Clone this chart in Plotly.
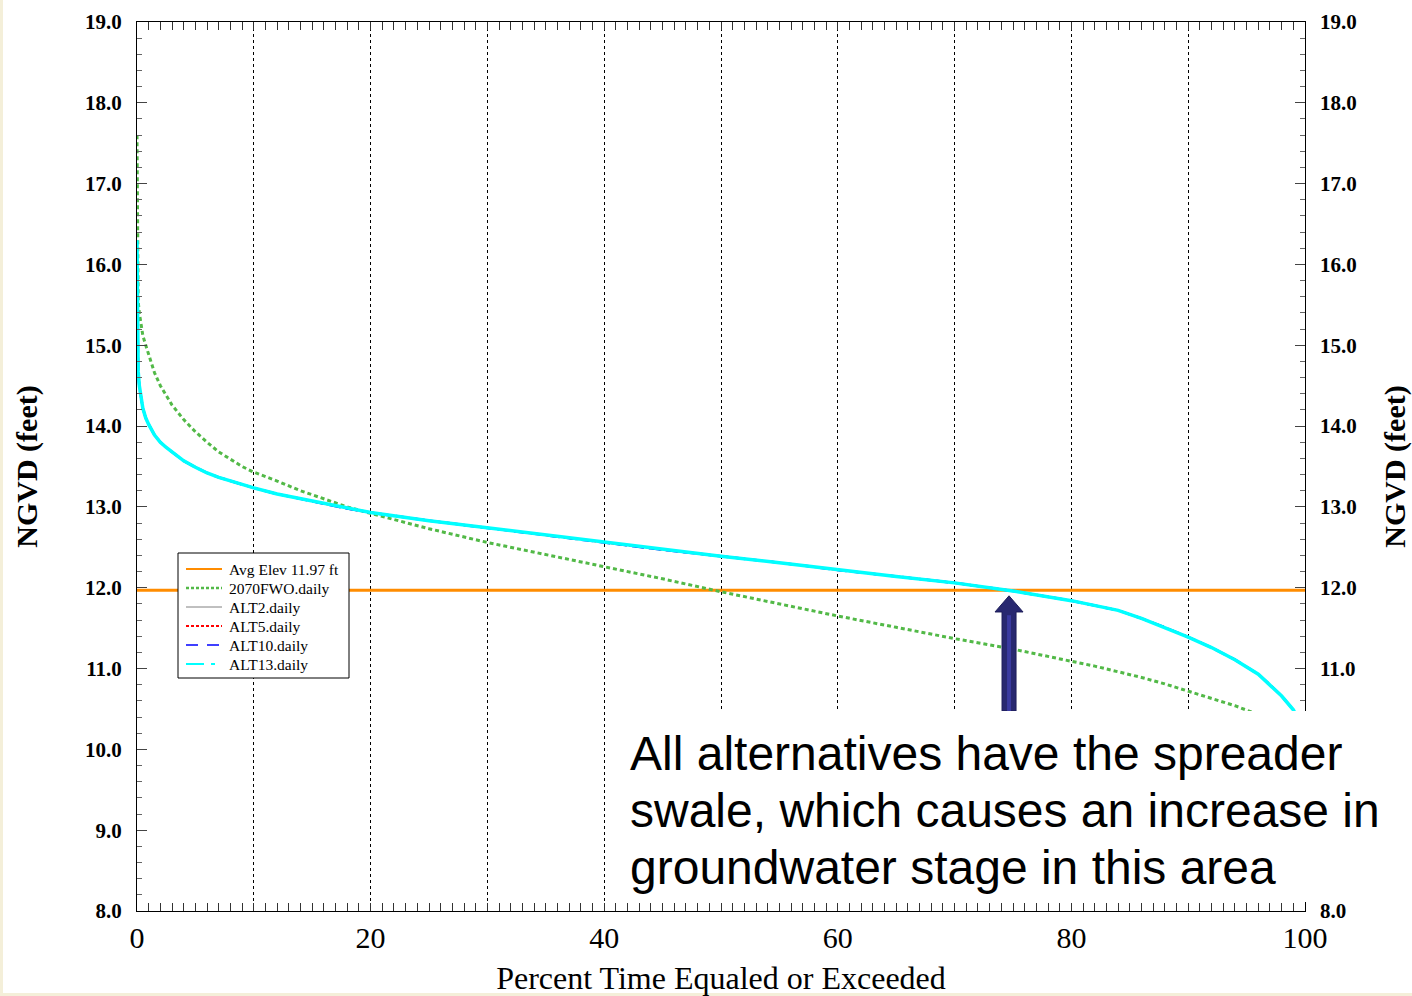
import plotly.graph_objects as go

# ---------------- data ----------------
pct = [0, 0.02, 0.05, 0.1, 0.2, 0.3, 0.5, 0.75, 1, 1.5, 2, 2.5, 3, 4, 5, 6, 7, 8, 9, 10,
       12, 14, 16, 18, 20, 25, 30, 35, 40, 45, 50, 55, 60, 65, 70, 75, 80, 82, 84, 86,
       88, 90, 92, 94, 96, 97, 98, 99, 100]

fwo_2070 = [17.6, 16.9, 16.3, 15.55, 15.4, 15.31, 15.12, 15.0, 14.89, 14.66, 14.5, 14.38,
            14.26, 14.08, 13.93, 13.8, 13.68, 13.59, 13.5, 13.43, 13.32, 13.2, 13.1, 13.0,
            12.92, 12.73, 12.56, 12.41, 12.26, 12.11, 11.95, 11.8, 11.65, 11.51, 11.37,
            11.24, 11.09, 11.03, 10.96, 10.89, 10.81, 10.72, 10.63, 10.54, 10.43, 10.37,
            10.31, 10.24, 10.15]

alt2 = [16.0, 15.4, 14.9, 14.68, 14.5, 14.38, 14.22, 14.1, 14.02, 13.89, 13.8, 13.735,
        13.68, 13.57, 13.49, 13.42, 13.365, 13.32, 13.28, 13.235, 13.16, 13.1, 13.04,
        12.98, 12.93, 12.83, 12.74, 12.65, 12.56, 12.47, 12.39, 12.31, 12.22, 12.14,
        12.06, 11.96, 11.84, 11.78, 11.72, 11.62, 11.51, 11.39, 11.26, 11.11, 10.93,
        10.8, 10.66, 10.49, 10.2]

alt5 = [16.05, 15.2, 14.85, 14.66, 14.5, 14.38, 14.22, 14.1, 14.02, 13.89, 13.8, 13.735,
        13.68, 13.57, 13.49, 13.42, 13.365, 13.32, 13.28, 13.235, 13.16, 13.1, 13.04,
        12.98, 12.93, 12.83, 12.74, 12.65, 12.56, 12.47, 12.39, 12.31, 12.22, 12.14,
        12.06, 11.96, 11.84, 11.78, 11.72, 11.62, 11.51, 11.39, 11.26, 11.11, 10.93,
        10.8, 10.66, 10.49, 10.2]

alt10 = [15.9, 15.55, 14.8, 14.64, 14.49, 14.38, 14.22, 14.1, 14.02, 13.89, 13.8, 13.735,
         13.68, 13.57, 13.49, 13.42, 13.365, 13.32, 13.28, 13.235, 13.16, 13.1, 13.04,
         12.98, 12.93, 12.83, 12.74, 12.65, 12.56, 12.47, 12.39, 12.31, 12.22, 12.14,
         12.06, 11.96, 11.84, 11.78, 11.72, 11.62, 11.51, 11.39, 11.26, 11.11, 10.93,
         10.8, 10.66, 10.49, 10.2]

alt13 = [16.3, 15.6, 14.9, 14.68, 14.5, 14.38, 14.22, 14.1, 14.02, 13.89, 13.8, 13.735,
         13.68, 13.57, 13.49, 13.42, 13.365, 13.32, 13.28, 13.235, 13.16, 13.1, 13.04,
         12.98, 12.93, 12.83, 12.74, 12.65, 12.56, 12.47, 12.39, 12.31, 12.22, 12.14,
         12.06, 11.96, 11.84, 11.78, 11.72, 11.62, 11.51, 11.39, 11.26, 11.11, 10.93,
         10.8, 10.66, 10.49, 10.2]

avg_elev = 11.97

series_names = ["Avg Elev 11.97 ft", "2070FWO.daily", "ALT2.daily",
                "ALT5.daily", "ALT10.daily", "ALT13.daily"]

x_tick_vals = [0, 10, 20, 30, 40, 50, 60, 70, 80, 90, 100]
x_tick_text = ["0", "", "20", "", "40", "", "60", "", "80", "", "100"]
y_tick_vals = [8, 9, 10, 11, 12, 13, 14, 15, 16, 17, 18, 19]
y_tick_vals_right = [8, 11, 12, 13, 14, 15, 16, 17, 18, 19]

x_title = "Percent Time Equaled or Exceeded"
y_title = "NGVD (feet)"
note_lines = ["All alternatives have the spreader",
              "swale, which causes an increase in",
              "groundwater stage in this area"]

# ---------------- styles ----------------
SERIF = "Liberation Serif"
colors = ["#FF8C00", "#52B947", "#808080", "#FF0000", "#0000FF", "#00FFFF"]

# plot area in pixels (for placing legend box / note relative to it)
PL, PR, PT, PB = 137, 1305, 22, 911


def px_x(px):
    return (px - PL) / (PR - PL)


def px_y(py):
    return (PB - py) / (PB - PT)


fig = go.Figure()

trace_styles = [
    dict(color=colors[0], width=3),
    dict(color=colors[1], width=3, dash="4px,3px"),
    dict(color=colors[2], width=1),
    dict(color=colors[3], width=2, dash="3px,3px"),
    dict(color=colors[4], width=2.5, dash="12px,5px"),
    dict(color=colors[5], width=3.5),
]
series_y = [[avg_elev, avg_elev], fwo_2070, alt2, alt5, alt10, alt13]
series_x = [[0, 100], pct, pct, pct, pct, pct]
for name, xs, ys, st in zip(series_names, series_x, series_y, trace_styles):
    fig.add_trace(go.Scatter(x=xs, y=ys, mode="lines", name=name, line=st,
                             showlegend=False))

fig.add_trace(go.Scatter(x=[None], y=[None], yaxis="y2", showlegend=False,
                         hoverinfo="skip"))

# ---------------- shapes ----------------
shapes = [
    dict(type="rect", xref="paper", yref="paper", x0=px_x(3), x1=px_x(1420),
         y0=px_y(993), y1=px_y(-10), fillcolor="white", line=dict(width=0),
         layer="below"),
    # block arrow
    dict(type="path", xref="x", yref="y",
         path="M 74.06,10.475 L 74.06,11.70 L 73.46,11.70 L 74.66,11.90 "
              "L 75.86,11.70 L 75.26,11.70 L 75.26,10.475 Z",
         fillcolor="#282870", line=dict(color="#1E1E5A", width=1), layer="above"),
    dict(type="rect", xref="x", yref="y", x0=74.49, x1=74.83, y0=10.475, y1=11.66,
         fillcolor="#3A3AA0", line=dict(width=0), layer="above"),
    # white box behind the note
    dict(type="rect", xref="paper", yref="paper", x0=px_x(608), x1=px_x(1420),
         y0=px_y(902), y1=px_y(711), fillcolor="white", line=dict(width=0),
         layer="above"),
    # legend box
    dict(type="rect", xref="paper", yref="paper", x0=px_x(178), x1=px_x(349),
         y0=px_y(678), y1=px_y(553), fillcolor="white",
         line=dict(color="black", width=1), layer="above"),
]

legend_line_styles = [
    dict(color=colors[0], width=2),
    dict(color=colors[1], width=2.5, dash="3px,2px"),
    dict(color=colors[2], width=1),
    dict(color=colors[3], width=2, dash="3px,2px"),
    dict(color=colors[4], width=1.5, dash="12px,9px"),
    dict(color=colors[5], width=2, dash="18px,7px,4px,7px"),
]

annotations = []
for i, (name, st) in enumerate(zip(series_names, legend_line_styles)):
    row_y = px_y(569 + 19 * i)
    shapes.append(dict(type="line", xref="paper", yref="paper", x0=px_x(186),
                       x1=px_x(222), y0=row_y, y1=row_y, line=st, layer="above"))
    annotations.append(dict(text=name, xref="paper", yref="paper", x=px_x(227),
                            y=row_y, xanchor="left", yanchor="middle",
                            showarrow=False,
                            font=dict(family=SERIF, size=15.5, color="black")))

note_y = [0.1777, 0.1136, 0.0484]
for txt, yy in zip(note_lines, note_y):
    annotations.append(dict(text=txt, xref="paper", yref="paper", x=px_x(628), y=yy,
                            xanchor="left", yanchor="middle", showarrow=False,
                            font=dict(family="Liberation Sans", size=48, color="black")))

fig.update_layout(
    width=1412, height=996,
    margin=dict(l=PL, r=1412 - PR, t=PT, b=996 - PB, autoexpand=False),
    paper_bgcolor="#F4EFD9",
    plot_bgcolor="white",
    shapes=shapes,
    annotations=annotations,
    showlegend=False,
    xaxis=dict(range=[0, 100], tickmode="array", tickvals=x_tick_vals,
               ticktext=x_tick_text, ticks="inside", ticklen=8, tickcolor="#333",
               showline=True, linecolor="black", linewidth=1, mirror="allticks",
               showgrid=True, gridcolor="black", gridwidth=1, griddash="3px,3px",
               zeroline=False, ticklabelstandoff=0, automargin=False,
               tickfont=dict(family=SERIF, size=30, color="black"),
               minor=dict(tickmode="linear", tick0=0, dtick=1, ticks="inside",
                          ticklen=6, tickcolor="#333", showgrid=False),
               title=dict(text=x_title, standoff=15,
                          font=dict(family=SERIF, size=32, color="black"))),
    yaxis=dict(range=[8, 19], tickmode="array", tickvals=y_tick_vals,
               tickformat=".1f", ticks="inside", ticklen=10, tickcolor="#444",
               showline=True, linecolor="black", linewidth=1, mirror="allticks",
               showgrid=False, zeroline=False, ticklabelstandoff=10, automargin=False,
               tickfont=dict(family=SERIF, size=21, color="black", weight="bold"),
               minor=dict(tickmode="linear", tick0=8, dtick=0.2, ticks="inside",
                          ticklen=5, tickcolor="#666", showgrid=False),
               title=dict(text=y_title, standoff=38,
                          font=dict(family=SERIF, size=30, color="black",
                                    weight="bold"))),
    yaxis2=dict(range=[8, 19], overlaying="y", side="right", anchor="x",
                tickmode="array", tickvals=y_tick_vals_right, tickformat=".1f",
                ticks="", showline=False, showgrid=False, zeroline=False,
                ticklabelstandoff=14, automargin=False,
                tickfont=dict(family=SERIF, size=21, color="black", weight="bold"),
                title=dict(text=y_title, standoff=28,
                           font=dict(family=SERIF, size=30, color="black",
                                     weight="bold"))),
)

fig.write_html("out.html", config={"displayModeBar": False},
               post_script="document.body.style.margin='0';"
                           "document.body.style.overflow='hidden';")
